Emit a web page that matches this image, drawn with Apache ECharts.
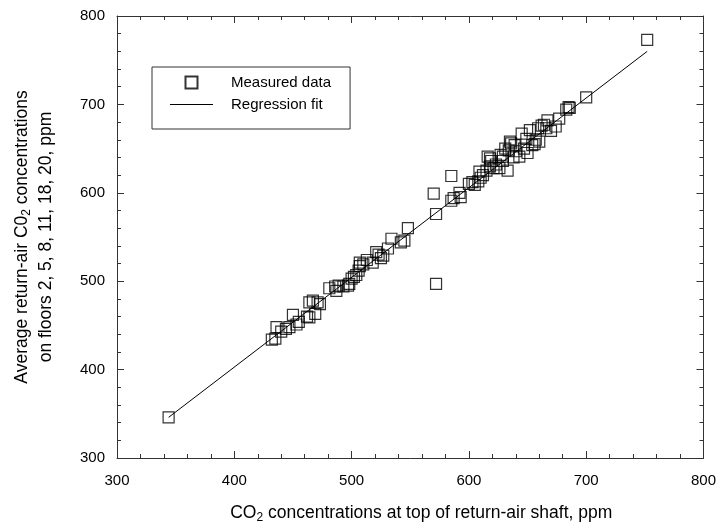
<!DOCTYPE html>
<html>
<head>
<meta charset="utf-8">
<script src="https://cdn.jsdelivr.net/npm/echarts@6/dist/echarts.min.js"></script>
<style>html,body{margin:0;padding:0;background:#fff}#c{width:719px;height:529px}</style>
</head>
<body>
<div id="c"></div>
<script>
// Measured data (x: CO2 at top of shaft, y: average return-air CO2), ppm
var measuredX = [344,432,435,436,440,444,447,450,453,455,462,464,464,467,469,471,473,481,486,487,489,493,497,498,500,502,504,506,507,507,510,513,518,521,523,525,527,531,534,542,545,548,570,572,572,585,585,587,592,593,600,603,605,608,609,610,612,615,616,618,618,619,621,623,626,627,629,629,631,633,634,635,636,638,639,640,643,645,647,649,650,652,654,656,657,659,660,662,664,666,667,670,674,677,683,685,686,700,752];
var measuredY = [346,434,435,448,443,446,448,462,451,454,460,459,476,478,463,476,474,492,494,489,495,494,495,497,503,505,507,512,517,521,519,524,521,533,530,526,529,537,548,544,546,560,599,576,497,619,591,594,600,595,610,612,609,613,624,617,620,625,641,630,639,636,628,632,628,643,636,641,650,625,648,658,656,640,654,647,641,667,650,661,645,671,654,655,660,673,658,676,677,673,682,670,675,684,694,697,696,708,773];
// Regression fit endpoints
var fitX = [344, 752];
var fitY = [346, 760];
var xTicks = [300, 400, 500, 600, 700, 800];
var yTicks = [300, 400, 500, 600, 700, 800];

var FONT = "'Liberation Sans', Arial, sans-serif";
var measured = measuredX.map(function (x, i) { return [x, measuredY[i]]; });
var fit = fitX.map(function (x, i) { return [x, fitY[i]]; });

var axisCommon = {
  type: 'value', min: 300, max: 800, interval: 100,
  axisLine: { show: true, lineStyle: { color: '#333', width: 1 } },
  axisTick: { show: true, inside: true, length: 7, lineStyle: { color: '#333' } },
  minorTick: { show: true, splitNumber: 5, length: 4, lineStyle: { color: '#333' } },
  splitLine: { show: false }
};
function merge(a, b) { return Object.assign({}, a, b); }
var subStyle = { fontSize: 12, fontFamily: FONT, color: '#000', padding: [10, 0, 0, 0] };

var chart = echarts.init(document.getElementById('c'));
chart.setOption({
  backgroundColor: '#fff',
  animation: false,
  grid: { left: 117, right: 15, top: 16, bottom: 65 },
  xAxis: [
    merge(axisCommon, {
      position: 'bottom',
      axisLabel: { fontSize: 15, color: '#000', fontFamily: FONT, margin: 15,
        formatter: function (v) { return xTicks.indexOf(v) >= 0 ? String(v) : ''; } },
      name: 'CO{sub|2} concentrations at top of return-air shaft, ppm',
      nameLocation: 'middle', nameGap: 44,
      nameTextStyle: { fontSize: 17.5, color: '#000', fontFamily: FONT, padding: [0, 0, 0, 22],
        rich: { sub: subStyle } }
    }),
    merge(axisCommon, { position: 'top', axisLabel: { show: false } })
  ],
  yAxis: [
    merge(axisCommon, {
      position: 'left',
      axisLabel: { fontSize: 15, color: '#000', fontFamily: FONT, margin: 12,
        formatter: function (v) { return yTicks.indexOf(v) >= 0 ? String(v) : ''; } },
      name: 'Average return-air C0{sub|2} concentrations\non floors 2, 5, 8, 11, 18, 20, ppm',
      nameLocation: 'middle', nameGap: 59, nameRotate: 90,
      nameTextStyle: { fontSize: 17.5, color: '#000', fontFamily: FONT, lineHeight: 24, align: 'center',
        rich: { sub: subStyle } }
    }),
    merge(axisCommon, { position: 'right', axisLabel: { show: false } })
  ],
  legend: {
    orient: 'vertical', left: 152, top: 67,
    padding: [8, 19, 17, 18], itemWidth: 43, itemHeight: 12, itemGap: 7,
    borderColor: '#333', borderWidth: 1, borderRadius: 0,
    textStyle: { fontSize: 15, color: '#000', fontFamily: FONT, padding: [0, 0, 0, 13] },
    data: [
      { name: 'Measured data', icon: 'path://M0,0h10v10h-10z' },
      { name: 'Regression fit', icon: 'path://M0,0h43v1h-43z' }
    ]
  },
  series: [
    {
      name: 'Regression fit', type: 'line', data: fit, symbol: 'none',
      lineStyle: { color: '#000', width: 1 }, itemStyle: { color: '#000' }, z: 1
    },
    {
      name: 'Measured data', type: 'scatter', data: measured, symbol: 'rect', symbolSize: 11,
      itemStyle: { color: 'rgba(255,255,255,0)', borderColor: '#000', borderWidth: 1.2 }, z: 2
    }
  ]
});
</script>
</body>
</html>
